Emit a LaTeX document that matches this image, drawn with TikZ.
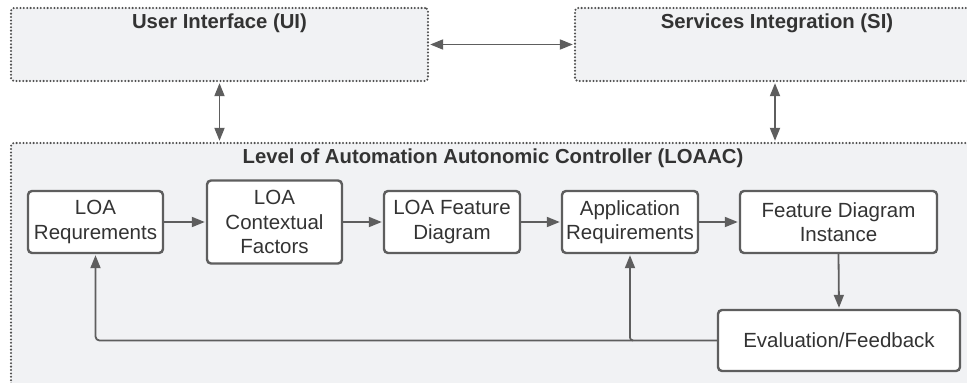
\documentclass[tikz,border=0pt]{standalone}
\usepackage{fontspec}
\setmainfont{Liberation Sans}
\usetikzlibrary{arrows.meta}
\definecolor{panelfill}{HTML}{F1F2F4}
\definecolor{edgegray}{HTML}{5E5E5E}
\definecolor{dotgray}{HTML}{505050}
\definecolor{inktext}{HTML}{333333}
\tikzset{
  panel/.style={draw=dotgray, fill=panelfill, line width=2.3pt, line cap=round,
    dash pattern=on 0pt off 3.4pt, rounded corners=3pt, inner sep=0pt},
  paneltitle/.style={font=\fontsize{20.3}{23}\selectfont\bfseries, text=inktext, inner sep=0pt},
  stepbox/.style={draw=edgegray, fill=white, line width=2.4pt, rounded corners=4pt,
    align=center, inner sep=0pt, text=inktext,
    font=\fontsize{20.5}{24.5}\selectfont},
  flow/.style={draw=edgegray, line width=1.8pt,
    -{Triangle[length=13pt,width=10pt]}, shorten >=1pt},
  twoway/.style={draw=edgegray, line width=1.8pt,
    {Triangle[length=13pt,width=10pt]}-{Triangle[length=13pt,width=10pt]}, shorten >=1pt, shorten <=1pt}
}
\begin{document}
\begin{tikzpicture}[x=1pt, y=-1pt]
\useasboundingbox (0,0) rectangle (967,383);
\begin{scope}
\clip (0,0) rectangle (967,383);
% outer panels
\node[panel, minimum width=417pt, minimum height=73pt] (ui) at (219.5,44.5) {};
\node[panel, minimum width=404pt, minimum height=73pt] (si) at (777,44.5) {};
\node[panel, minimum width=964pt, minimum height=257pt] (loaac) at (493,271.5) {};
\end{scope}
\node[paneltitle] (uititle) at (219.5,23.5) {User Interface (UI)};
\node[paneltitle] (sititle) at (777,23.5) {Services Integration (SI)};
\node[paneltitle] (loaactitle) at (493,158) {Level of Automation Autonomic Controller (LOAAC)};

% process steps
\node[stepbox, minimum width=135pt, minimum height=62pt] (lr) at (95.5,222) {LOA\\Requrements};
\node[stepbox, minimum width=135pt, minimum height=83pt] (cf) at (274.5,222) {LOA\\Contextual\\Factors};
\node[stepbox, minimum width=136pt, minimum height=62pt] (fd) at (452,222) {LOA Feature\\Diagram};
\node[stepbox, minimum width=136pt, minimum height=62pt] (ar) at (630,222) {Application\\Requirements};
\node[stepbox, minimum width=197pt, minimum height=62pt] (fdi) at (838.5,222) {Feature Diagram\\Instance};
\node[stepbox, minimum width=242pt, minimum height=61pt] (ef) at (839,340.5) {Evaluation/Feedback};

% links between panels
\draw[twoway] (ui.east) -- (si.west);
\draw[twoway] (ui.south) -- (ui.south |- loaac.north);
\coordinate (sidown) at ([xshift=-2pt]si.south);
\draw[twoway] (sidown) -- (sidown |- loaac.north);

% forward chain
\draw[flow] (lr.east) -- (cf.west);
\draw[flow] (cf.east) -- (fd.west);
\draw[flow] (fd.east) -- (ar.west);
\draw[flow] (ar.east) -- (fdi.west);
\draw[flow] (fdi.south) -- (ef.north);

% feedback paths
\coordinate (branch) at (ar.south |- ef.west);
\draw[flow, rounded corners=4pt] (ef.west) -| (lr.south);
\draw[flow, rounded corners=3pt] ([xshift=3pt]branch) -- (branch) -- (ar.south);
\end{tikzpicture}
\end{document}
